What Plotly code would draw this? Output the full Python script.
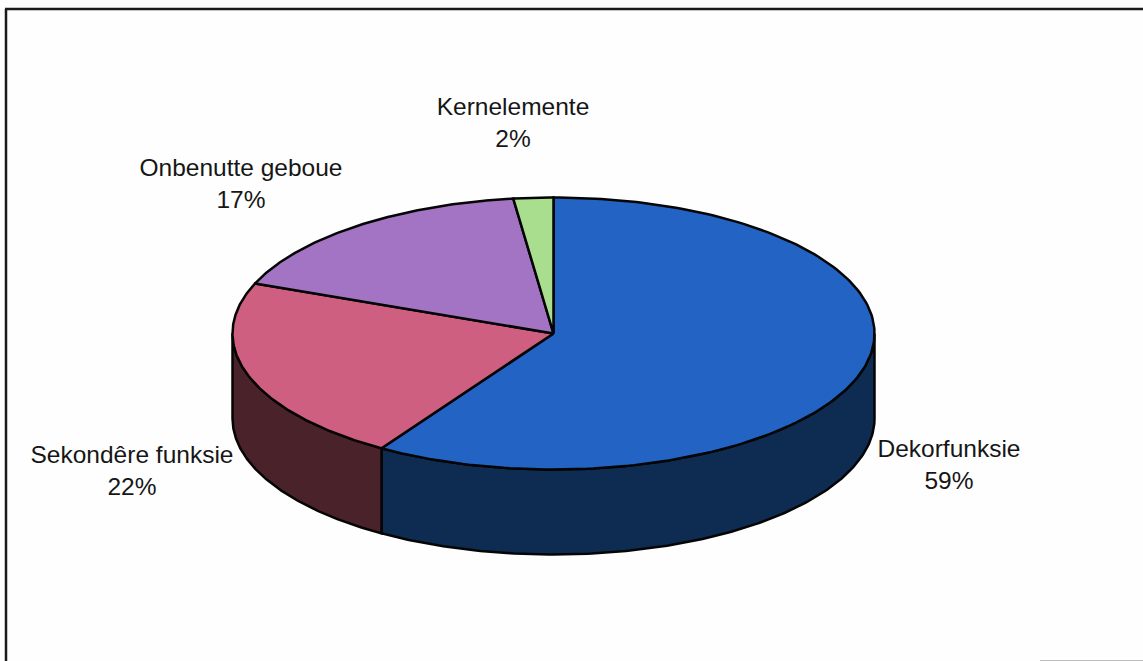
import numpy as np
import plotly.graph_objects as go

categories = ["Dekorfunksie", "Sekondêre funksie", "Onbenutte geboue", "Kernelemente"]
shares = [59, 22, 17, 2]
top_colors = ["#2263C4", "#CE5F80", "#A374C4", "#A9DE8E"]
side_colors = ["#0E2C52", "#4A2229"]
label_xy = [(949, 467), (132, 473), (241, 186), (513, 125)]

W, H = 1143, 661
cx, cy, rx, ry, depth = 553.5, 333.5, 321, 136, 85


def ell(t, dy=0.0):
    t = np.asarray(t)
    return cx + rx * np.sin(t), cy - ry * np.cos(t) + dy


fig = go.Figure()
edge = dict(color="#050505", width=2.5)
fracs = np.cumsum([0] + shares) / sum(shares) * 2 * np.pi

# side walls of the visible slices
for i in range(2):
    a, b = fracs[i], min(fracs[i + 1], 1.5 * np.pi)
    t = np.linspace(max(a, 0.5 * np.pi), b, 160)
    x1, y1 = ell(t)
    x2, y2 = ell(t[::-1], depth)
    fig.add_trace(go.Scatter(
        x=np.r_[x1, x2, x1[0]], y=np.r_[y1, y2, y1[0]], mode="lines",
        fill="toself", fillcolor=side_colors[i], line=edge, hoverinfo="skip"))

# top faces
for i, c in enumerate(top_colors):
    t = np.linspace(fracs[i], fracs[i + 1], 200)
    x, y = ell(t)
    fig.add_trace(go.Scatter(
        x=np.r_[cx, x, cx], y=np.r_[cy, y, cy], mode="lines",
        fill="toself", fillcolor=c, line=edge, name=categories[i], hoverinfo="name"))

# data labels
fig.add_trace(go.Scatter(
    x=[p[0] for p in label_xy], y=[p[1] for p in label_xy], mode="text",
    text=[f"{n}<br>{s}%" for n, s in zip(categories, shares)],
    textposition="middle center",
    textfont=dict(family="Liberation Sans, Arial, sans-serif", size=24.5, color="#161616"),
    hoverinfo="skip"))

frame = dict(color="#1A1A1A", width=2.5)
fig.update_layout(
    width=W, height=H, margin=dict(l=0, r=0, t=0, b=0), showlegend=False,
    paper_bgcolor="#FEFEFE", plot_bgcolor="#FEFEFE",
    xaxis=dict(range=[0, W], visible=False, fixedrange=True),
    yaxis=dict(range=[H, 0], visible=False, fixedrange=True),
    shapes=[
        dict(type="line", x0=5, y0=9, x1=W, y1=9, line=frame),
        dict(type="line", x0=6, y0=9, x1=6, y1=H, line=frame),
        dict(type="line", x0=1040, y0=660.5, x1=W, y1=660.5,
             line=dict(color="#BDBDBD", width=1)),
    ],
)
fig.write_html("out.html", config=dict(displayModeBar=False),
               post_script="document.body.style.margin='0';document.body.style.overflow='hidden';")
